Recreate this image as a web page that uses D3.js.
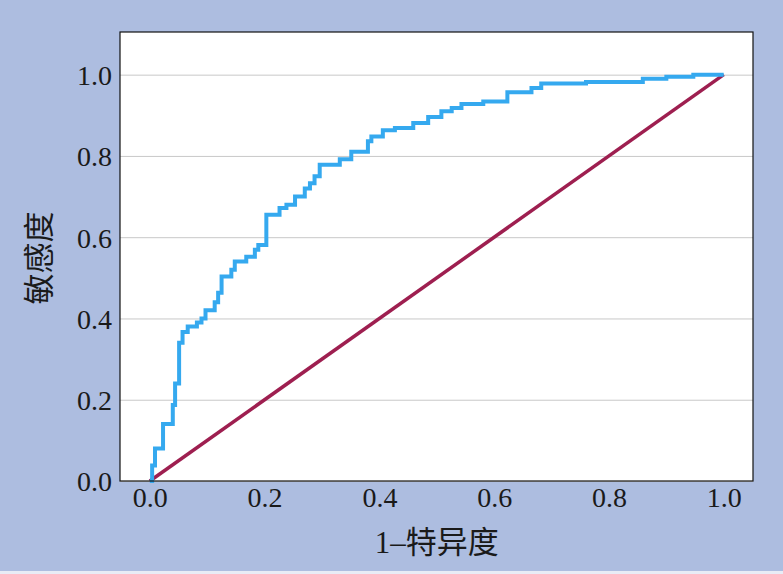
<!DOCTYPE html>
<meta charset="utf-8">
<script src="https://d3js.org/d3.v7.min.js"></script>
<style>
  body { margin: 0; background: #adbde0; }
  text { font-family: "Liberation Serif", "Noto Sans CJK SC", serif; fill: #1a1a1a; }
</style>
<svg id="chart" width="783" height="574"></svg>
<script>
// ROC staircase corners: at each fpr the curve rises to the tpr value
var fpr = [0, 0.004, 0.009, 0.023, 0.040, 0.044, 0.051, 0.057, 0.066, 0.082, 0.090, 0.097,
           0.113, 0.119, 0.125, 0.142, 0.148, 0.168, 0.183, 0.189, 0.203, 0.226, 0.238,
           0.253, 0.270, 0.279, 0.287, 0.296, 0.331, 0.351, 0.380, 0.386, 0.406, 0.427,
           0.459, 0.485, 0.508, 0.526, 0.543, 0.581, 0.623, 0.665, 0.682, 0.760, 0.859,
           0.900, 0.947, 1.0];
var tpr = [0, 0.038, 0.080, 0.140, 0.187, 0.240, 0.340, 0.367, 0.380, 0.390, 0.400, 0.420,
           0.440, 0.463, 0.503, 0.520, 0.540, 0.552, 0.569, 0.581, 0.655, 0.672, 0.680,
           0.700, 0.720, 0.733, 0.750, 0.778, 0.792, 0.810, 0.836, 0.848, 0.863, 0.869,
           0.881, 0.896, 0.910, 0.918, 0.928, 0.934, 0.957, 0.967, 0.978, 0.982, 0.990,
           0.995, 1.0, 1.0];
var refX = [0, 1];
var refY = [0, 1];
var ticks = [0, 0.2, 0.4, 0.6, 0.8, 1.0];

var svg = d3.select("#chart");
var plotL = 120, plotR = 753, plotT = 32, plotB = 481;

var x = d3.scaleLinear().domain([-0.052, 1.051]).range([plotL, plotR]);
var y = d3.scaleLinear().domain([0, 1.105]).range([plotB, plotT]);

// plot background
svg.append("rect")
    .attr("x", plotL).attr("y", plotT)
    .attr("width", plotR - plotL).attr("height", plotB - plotT)
    .attr("fill", "#fff");

// horizontal grid lines
svg.append("g")
    .attr("transform", "translate(" + plotL + ",0)")
    .call(d3.axisLeft(y).tickValues(ticks).tickSize(-(plotR - plotL)).tickFormat(""))
    .call(function(g) {
        g.select(".domain").remove();
        g.selectAll("line").attr("stroke", "#c8c8c8").attr("stroke-width", 1);
    });

// axes (labels only)
svg.append("g")
    .attr("transform", "translate(" + plotL + ",0)")
    .call(d3.axisLeft(y).tickValues(ticks).tickSize(0).tickPadding(8).tickFormat(d3.format(".1f")))
    .call(function(g) {
        g.select(".domain").remove();
        g.selectAll("text").style("font-size", "28px").attr("dy", "0.35em");
    });

svg.append("g")
    .attr("transform", "translate(0," + plotB + ")")
    .call(d3.axisBottom(x).tickValues(ticks).tickSize(0).tickPadding(6).tickFormat(d3.format(".1f")))
    .call(function(g) {
        g.select(".domain").remove();
        g.selectAll("text").style("font-size", "28px");
    });

// reference diagonal
var line = d3.line().x(function(d) { return x(d[0]); }).y(function(d) { return y(d[1]); });
svg.append("path")
    .datum(refX.map(function(v, i) { return [v, refY[i]]; }))
    .attr("d", line)
    .attr("fill", "none")
    .attr("stroke", "#9e1f50")
    .attr("stroke-width", 3.5);

// ROC curve
var step = d3.line().curve(d3.curveStepAfter)
    .x(function(d) { return x(d[0]); }).y(function(d) { return y(d[1]); });
svg.append("path")
    .datum(fpr.map(function(v, i) { return [v, tpr[i]]; }))
    .attr("d", step)
    .attr("fill", "none")
    .attr("stroke", "#35a9ef")
    .attr("stroke-width", 4)
    .attr("stroke-linejoin", "miter");

// frame
svg.append("rect")
    .attr("x", plotL).attr("y", plotT)
    .attr("width", plotR - plotL).attr("height", plotB - plotT)
    .attr("fill", "none")
    .attr("stroke", "#111")
    .attr("stroke-width", 1.2);

// axis titles
svg.append("text")
    .attr("x", (x(0) + x(1)) / 2).attr("y", 553)
    .attr("text-anchor", "middle")
    .style("font-size", "31px")
    .text("1–特异度");

svg.append("text")
    .attr("transform", "translate(50,258) rotate(-90)")
    .attr("text-anchor", "middle")
    .style("font-size", "31px")
    .text("敏感度");

// thin light strip at the bottom edge
svg.append("rect")
    .attr("x", 0).attr("y", 571).attr("width", 783).attr("height", 3)
    .attr("fill", "#e8ecf6");
</script>
